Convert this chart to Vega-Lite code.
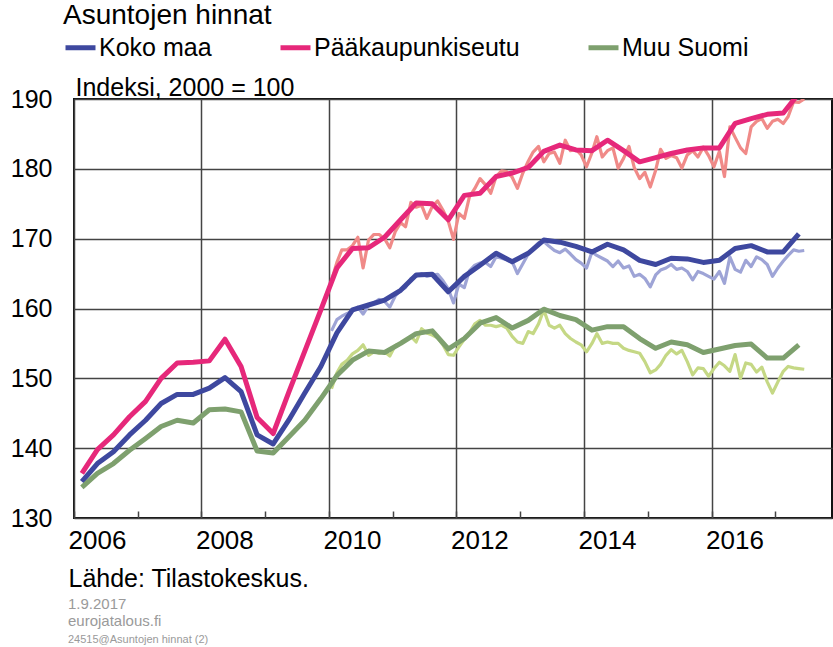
{
  "$schema": "https://vega.github.io/schema/vega-lite/v6.json",
  "width": 758,
  "height": 419,
  "autosize": {"type": "none"},
  "padding": {"left": 74, "top": 99, "right": 1, "bottom": 129},
  "background": "white",
  "config": {
    "font": "Liberation Sans",
    "view": {"stroke": "#111111", "strokeWidth": 2},
    "axis": {"domain": false, "gridColor": "#444444", "gridWidth": 1.5, "labelColor": "#000000", "labelFont": "Liberation Sans", "titleFont": "Liberation Sans"}
  },
  "title": {
    "text": ["1.9.2017", "eurojatalous.fi"],
    "subtitle": "24515@Asuntojen hinnat (2)",
    "orient": "bottom",
    "anchor": "start",
    "frame": "group",
    "fontSize": 15,
    "fontWeight": "normal",
    "color": "#9a9a9a",
    "lineHeight": 17,
    "subtitleFontSize": 11,
    "subtitleColor": "#9a9a9a",
    "subtitlePadding": 5,
    "offset": 6,
    "dx": -6
  },
  "datasets": {
    "q": [
      {"d":"2006-02-15","s":"Koko maa","v":135.2},{"d":"2006-05-15","s":"Koko maa","v":137.8},{"d":"2006-08-15","s":"Koko maa","v":139.5},{"d":"2006-11-15","s":"Koko maa","v":141.9},
      {"d":"2007-02-15","s":"Koko maa","v":144.0},{"d":"2007-05-15","s":"Koko maa","v":146.4},{"d":"2007-08-15","s":"Koko maa","v":147.7},{"d":"2007-11-15","s":"Koko maa","v":147.7},
      {"d":"2008-02-15","s":"Koko maa","v":148.6},{"d":"2008-05-15","s":"Koko maa","v":150.1},{"d":"2008-08-15","s":"Koko maa","v":148.1},{"d":"2008-11-15","s":"Koko maa","v":141.9},
      {"d":"2009-02-15","s":"Koko maa","v":140.6},{"d":"2009-05-15","s":"Koko maa","v":144.0},{"d":"2009-08-15","s":"Koko maa","v":147.9},{"d":"2009-11-15","s":"Koko maa","v":151.7},
      {"d":"2010-02-15","s":"Koko maa","v":156.5},{"d":"2010-05-15","s":"Koko maa","v":159.8},{"d":"2010-08-15","s":"Koko maa","v":160.5},{"d":"2010-11-15","s":"Koko maa","v":161.2},
      {"d":"2011-02-15","s":"Koko maa","v":162.6},{"d":"2011-05-15","s":"Koko maa","v":164.8},{"d":"2011-08-15","s":"Koko maa","v":164.9},{"d":"2011-11-15","s":"Koko maa","v":162.4},
      {"d":"2012-02-15","s":"Koko maa","v":164.6},{"d":"2012-05-15","s":"Koko maa","v":166.2},{"d":"2012-08-15","s":"Koko maa","v":167.9},{"d":"2012-11-15","s":"Koko maa","v":166.7},
      {"d":"2013-02-15","s":"Koko maa","v":167.9},{"d":"2013-05-15","s":"Koko maa","v":169.8},{"d":"2013-08-15","s":"Koko maa","v":169.5},{"d":"2013-11-15","s":"Koko maa","v":168.9},
      {"d":"2014-02-15","s":"Koko maa","v":168.1},{"d":"2014-05-15","s":"Koko maa","v":169.2},{"d":"2014-08-15","s":"Koko maa","v":168.4},{"d":"2014-11-15","s":"Koko maa","v":166.9},
      {"d":"2015-02-15","s":"Koko maa","v":166.3},{"d":"2015-05-15","s":"Koko maa","v":167.2},{"d":"2015-08-15","s":"Koko maa","v":167.1},{"d":"2015-11-15","s":"Koko maa","v":166.6},
      {"d":"2016-02-15","s":"Koko maa","v":166.9},{"d":"2016-05-15","s":"Koko maa","v":168.6},{"d":"2016-08-15","s":"Koko maa","v":169.0},{"d":"2016-11-15","s":"Koko maa","v":168.1},
      {"d":"2017-02-15","s":"Koko maa","v":168.1},{"d":"2017-05-15","s":"Koko maa","v":170.7},

      {"d":"2006-02-15","s":"Pääkaupunkiseutu","v":136.4},{"d":"2006-05-15","s":"Pääkaupunkiseutu","v":139.8},{"d":"2006-08-15","s":"Pääkaupunkiseutu","v":141.9},{"d":"2006-11-15","s":"Pääkaupunkiseutu","v":144.5},
      {"d":"2007-02-15","s":"Pääkaupunkiseutu","v":146.7},{"d":"2007-05-15","s":"Pääkaupunkiseutu","v":150.0},{"d":"2007-08-15","s":"Pääkaupunkiseutu","v":152.2},{"d":"2007-11-15","s":"Pääkaupunkiseutu","v":152.3},
      {"d":"2008-02-15","s":"Pääkaupunkiseutu","v":152.5},{"d":"2008-05-15","s":"Pääkaupunkiseutu","v":155.6},{"d":"2008-08-15","s":"Pääkaupunkiseutu","v":151.7},{"d":"2008-11-15","s":"Pääkaupunkiseutu","v":144.4},
      {"d":"2009-02-15","s":"Pääkaupunkiseutu","v":142.1},{"d":"2009-05-15","s":"Pääkaupunkiseutu","v":148.0},{"d":"2009-08-15","s":"Pääkaupunkiseutu","v":153.9},{"d":"2009-11-15","s":"Pääkaupunkiseutu","v":159.8},
      {"d":"2010-02-15","s":"Pääkaupunkiseutu","v":165.8},{"d":"2010-05-15","s":"Pääkaupunkiseutu","v":168.6},{"d":"2010-08-15","s":"Pääkaupunkiseutu","v":168.7},{"d":"2010-11-15","s":"Pääkaupunkiseutu","v":170.2},
      {"d":"2011-02-15","s":"Pääkaupunkiseutu","v":172.7},{"d":"2011-05-15","s":"Pääkaupunkiseutu","v":175.1},{"d":"2011-08-15","s":"Pääkaupunkiseutu","v":175.0},{"d":"2011-11-15","s":"Pääkaupunkiseutu","v":172.7},
      {"d":"2012-02-15","s":"Pääkaupunkiseutu","v":176.2},{"d":"2012-05-15","s":"Pääkaupunkiseutu","v":176.5},{"d":"2012-08-15","s":"Pääkaupunkiseutu","v":178.9},{"d":"2012-11-15","s":"Pääkaupunkiseutu","v":179.4},
      {"d":"2013-02-15","s":"Pääkaupunkiseutu","v":180.2},{"d":"2013-05-15","s":"Pääkaupunkiseutu","v":182.5},{"d":"2013-08-15","s":"Pääkaupunkiseutu","v":183.4},{"d":"2013-11-15","s":"Pääkaupunkiseutu","v":182.7},
      {"d":"2014-02-15","s":"Pääkaupunkiseutu","v":182.6},{"d":"2014-05-15","s":"Pääkaupunkiseutu","v":184.1},{"d":"2014-08-15","s":"Pääkaupunkiseutu","v":182.6},{"d":"2014-11-15","s":"Pääkaupunkiseutu","v":181.0},
      {"d":"2015-02-15","s":"Pääkaupunkiseutu","v":181.6},{"d":"2015-05-15","s":"Pääkaupunkiseutu","v":182.2},{"d":"2015-08-15","s":"Pääkaupunkiseutu","v":182.7},{"d":"2015-11-15","s":"Pääkaupunkiseutu","v":183.0},
      {"d":"2016-02-15","s":"Pääkaupunkiseutu","v":183.0},{"d":"2016-05-15","s":"Pääkaupunkiseutu","v":186.5},{"d":"2016-08-15","s":"Pääkaupunkiseutu","v":187.2},{"d":"2016-11-15","s":"Pääkaupunkiseutu","v":187.8},
      {"d":"2017-02-15","s":"Pääkaupunkiseutu","v":188.0},{"d":"2017-05-15","s":"Pääkaupunkiseutu","v":190.8},

      {"d":"2006-02-15","s":"Muu Suomi","v":134.4},{"d":"2006-05-15","s":"Muu Suomi","v":136.4},{"d":"2006-08-15","s":"Muu Suomi","v":137.8},{"d":"2006-11-15","s":"Muu Suomi","v":139.7},
      {"d":"2007-02-15","s":"Muu Suomi","v":141.4},{"d":"2007-05-15","s":"Muu Suomi","v":143.1},{"d":"2007-08-15","s":"Muu Suomi","v":144.0},{"d":"2007-11-15","s":"Muu Suomi","v":143.6},
      {"d":"2008-02-15","s":"Muu Suomi","v":145.5},{"d":"2008-05-15","s":"Muu Suomi","v":145.6},{"d":"2008-08-15","s":"Muu Suomi","v":145.2},{"d":"2008-11-15","s":"Muu Suomi","v":139.6},
      {"d":"2009-02-15","s":"Muu Suomi","v":139.3},{"d":"2009-05-15","s":"Muu Suomi","v":141.6},{"d":"2009-08-15","s":"Muu Suomi","v":144.0},{"d":"2009-11-15","s":"Muu Suomi","v":147.1},
      {"d":"2010-02-15","s":"Muu Suomi","v":150.4},{"d":"2010-05-15","s":"Muu Suomi","v":152.6},{"d":"2010-08-15","s":"Muu Suomi","v":153.9},{"d":"2010-11-15","s":"Muu Suomi","v":153.7},
      {"d":"2011-02-15","s":"Muu Suomi","v":155.0},{"d":"2011-05-15","s":"Muu Suomi","v":156.4},{"d":"2011-08-15","s":"Muu Suomi","v":156.8},{"d":"2011-11-15","s":"Muu Suomi","v":154.2},
      {"d":"2012-02-15","s":"Muu Suomi","v":155.7},{"d":"2012-05-15","s":"Muu Suomi","v":157.9},{"d":"2012-08-15","s":"Muu Suomi","v":158.7},{"d":"2012-11-15","s":"Muu Suomi","v":157.2},
      {"d":"2013-02-15","s":"Muu Suomi","v":158.3},{"d":"2013-05-15","s":"Muu Suomi","v":159.9},{"d":"2013-08-15","s":"Muu Suomi","v":159.0},{"d":"2013-11-15","s":"Muu Suomi","v":158.4},
      {"d":"2014-02-15","s":"Muu Suomi","v":156.9},{"d":"2014-05-15","s":"Muu Suomi","v":157.4},{"d":"2014-08-15","s":"Muu Suomi","v":157.4},{"d":"2014-11-15","s":"Muu Suomi","v":155.7},
      {"d":"2015-02-15","s":"Muu Suomi","v":154.3},{"d":"2015-05-15","s":"Muu Suomi","v":155.2},{"d":"2015-08-15","s":"Muu Suomi","v":154.8},{"d":"2015-11-15","s":"Muu Suomi","v":153.7},
      {"d":"2016-02-15","s":"Muu Suomi","v":154.2},{"d":"2016-05-15","s":"Muu Suomi","v":154.7},{"d":"2016-08-15","s":"Muu Suomi","v":154.9},{"d":"2016-11-15","s":"Muu Suomi","v":152.9},
      {"d":"2017-02-15","s":"Muu Suomi","v":152.9},{"d":"2017-05-15","s":"Muu Suomi","v":154.8}
    ],
    "m": [
      {"d":"2010-01-15","s":"Koko maa","v":156.8},{"d":"2010-02-15","s":"Koko maa","v":158.4},{"d":"2010-03-15","s":"Koko maa","v":158.9},{"d":"2010-04-15","s":"Koko maa","v":159.3},{"d":"2010-05-15","s":"Koko maa","v":159.6},{"d":"2010-06-15","s":"Koko maa","v":160.2},{"d":"2010-07-15","s":"Koko maa","v":159.2},{"d":"2010-08-15","s":"Koko maa","v":160.4},{"d":"2010-09-15","s":"Koko maa","v":160.8},{"d":"2010-10-15","s":"Koko maa","v":161.3},{"d":"2010-11-15","s":"Koko maa","v":161.0},{"d":"2010-12-15","s":"Koko maa","v":160.2},
      {"d":"2011-01-15","s":"Koko maa","v":161.8},{"d":"2011-02-15","s":"Koko maa","v":162.6},{"d":"2011-03-15","s":"Koko maa","v":163.0},{"d":"2011-04-15","s":"Koko maa","v":164.3},{"d":"2011-05-15","s":"Koko maa","v":164.6},{"d":"2011-06-15","s":"Koko maa","v":165.0},{"d":"2011-07-15","s":"Koko maa","v":164.6},{"d":"2011-08-15","s":"Koko maa","v":164.8},{"d":"2011-09-15","s":"Koko maa","v":164.9},{"d":"2011-10-15","s":"Koko maa","v":164.0},{"d":"2011-11-15","s":"Koko maa","v":162.8},{"d":"2011-12-15","s":"Koko maa","v":160.8},
      {"d":"2012-01-15","s":"Koko maa","v":163.5},{"d":"2012-02-15","s":"Koko maa","v":163.0},{"d":"2012-03-15","s":"Koko maa","v":165.4},{"d":"2012-04-15","s":"Koko maa","v":166.2},{"d":"2012-05-15","s":"Koko maa","v":166.5},{"d":"2012-06-15","s":"Koko maa","v":166.6},{"d":"2012-07-15","s":"Koko maa","v":166.0},{"d":"2012-08-15","s":"Koko maa","v":167.4},{"d":"2012-09-15","s":"Koko maa","v":167.2},{"d":"2012-10-15","s":"Koko maa","v":167.0},{"d":"2012-11-15","s":"Koko maa","v":166.7},{"d":"2012-12-15","s":"Koko maa","v":165.0},
      {"d":"2013-01-15","s":"Koko maa","v":166.4},{"d":"2013-02-15","s":"Koko maa","v":167.8},{"d":"2013-03-15","s":"Koko maa","v":168.6},{"d":"2013-04-15","s":"Koko maa","v":169.4},{"d":"2013-05-15","s":"Koko maa","v":169.6},{"d":"2013-06-15","s":"Koko maa","v":168.9},{"d":"2013-07-15","s":"Koko maa","v":168.3},{"d":"2013-08-15","s":"Koko maa","v":168.0},{"d":"2013-09-15","s":"Koko maa","v":168.5},{"d":"2013-10-15","s":"Koko maa","v":167.8},{"d":"2013-11-15","s":"Koko maa","v":167.0},{"d":"2013-12-15","s":"Koko maa","v":166.5},
      {"d":"2014-01-15","s":"Koko maa","v":165.8},{"d":"2014-02-15","s":"Koko maa","v":168.1},{"d":"2014-03-15","s":"Koko maa","v":167.6},{"d":"2014-04-15","s":"Koko maa","v":167.2},{"d":"2014-05-15","s":"Koko maa","v":166.8},{"d":"2014-06-15","s":"Koko maa","v":166.0},{"d":"2014-07-15","s":"Koko maa","v":166.8},{"d":"2014-08-15","s":"Koko maa","v":165.8},{"d":"2014-09-15","s":"Koko maa","v":166.1},{"d":"2014-10-15","s":"Koko maa","v":164.6},{"d":"2014-11-15","s":"Koko maa","v":164.9},{"d":"2014-12-15","s":"Koko maa","v":164.3},
      {"d":"2015-01-15","s":"Koko maa","v":163.1},{"d":"2015-02-15","s":"Koko maa","v":164.8},{"d":"2015-03-15","s":"Koko maa","v":165.5},{"d":"2015-04-15","s":"Koko maa","v":165.8},{"d":"2015-05-15","s":"Koko maa","v":166.3},{"d":"2015-06-15","s":"Koko maa","v":165.6},{"d":"2015-07-15","s":"Koko maa","v":165.8},{"d":"2015-08-15","s":"Koko maa","v":165.3},{"d":"2015-09-15","s":"Koko maa","v":164.1},{"d":"2015-10-15","s":"Koko maa","v":165.3},{"d":"2015-11-15","s":"Koko maa","v":165.0},{"d":"2015-12-15","s":"Koko maa","v":164.6},
      {"d":"2016-01-15","s":"Koko maa","v":164.2},{"d":"2016-02-15","s":"Koko maa","v":165.3},{"d":"2016-03-15","s":"Koko maa","v":163.6},{"d":"2016-04-15","s":"Koko maa","v":167.4},{"d":"2016-05-15","s":"Koko maa","v":165.6},{"d":"2016-06-15","s":"Koko maa","v":165.2},{"d":"2016-07-15","s":"Koko maa","v":166.9},{"d":"2016-08-15","s":"Koko maa","v":166.0},{"d":"2016-09-15","s":"Koko maa","v":167.4},{"d":"2016-10-15","s":"Koko maa","v":167.0},{"d":"2016-11-15","s":"Koko maa","v":166.3},{"d":"2016-12-15","s":"Koko maa","v":164.6},
      {"d":"2017-01-15","s":"Koko maa","v":165.8},{"d":"2017-02-15","s":"Koko maa","v":166.8},{"d":"2017-03-15","s":"Koko maa","v":167.6},{"d":"2017-04-15","s":"Koko maa","v":168.4},{"d":"2017-05-15","s":"Koko maa","v":168.2},{"d":"2017-06-15","s":"Koko maa","v":168.3},

      {"d":"2010-01-15","s":"Pääkaupunkiseutu","v":164.0},{"d":"2010-02-15","s":"Pääkaupunkiseutu","v":166.6},{"d":"2010-03-15","s":"Pääkaupunkiseutu","v":168.4},{"d":"2010-04-15","s":"Pääkaupunkiseutu","v":168.4},{"d":"2010-05-15","s":"Pääkaupunkiseutu","v":169.0},{"d":"2010-06-15","s":"Pääkaupunkiseutu","v":170.2},{"d":"2010-07-15","s":"Pääkaupunkiseutu","v":165.8},{"d":"2010-08-15","s":"Pääkaupunkiseutu","v":169.8},{"d":"2010-09-15","s":"Pääkaupunkiseutu","v":170.6},{"d":"2010-10-15","s":"Pääkaupunkiseutu","v":170.6},{"d":"2010-11-15","s":"Pääkaupunkiseutu","v":170.0},{"d":"2010-12-15","s":"Pääkaupunkiseutu","v":168.7},
      {"d":"2011-01-15","s":"Pääkaupunkiseutu","v":171.0},{"d":"2011-02-15","s":"Pääkaupunkiseutu","v":172.3},{"d":"2011-03-15","s":"Pääkaupunkiseutu","v":171.7},{"d":"2011-04-15","s":"Pääkaupunkiseutu","v":175.2},{"d":"2011-05-15","s":"Pääkaupunkiseutu","v":174.5},{"d":"2011-06-15","s":"Pääkaupunkiseutu","v":174.8},{"d":"2011-07-15","s":"Pääkaupunkiseutu","v":172.9},{"d":"2011-08-15","s":"Pääkaupunkiseutu","v":174.6},{"d":"2011-09-15","s":"Pääkaupunkiseutu","v":175.4},{"d":"2011-10-15","s":"Pääkaupunkiseutu","v":174.1},{"d":"2011-11-15","s":"Pääkaupunkiseutu","v":172.5},{"d":"2011-12-15","s":"Pääkaupunkiseutu","v":169.9},
      {"d":"2012-01-15","s":"Pääkaupunkiseutu","v":173.6},{"d":"2012-02-15","s":"Pääkaupunkiseutu","v":172.9},{"d":"2012-03-15","s":"Pääkaupunkiseutu","v":176.0},{"d":"2012-04-15","s":"Pääkaupunkiseutu","v":177.2},{"d":"2012-05-15","s":"Pääkaupunkiseutu","v":178.6},{"d":"2012-06-15","s":"Pääkaupunkiseutu","v":177.7},{"d":"2012-07-15","s":"Pääkaupunkiseutu","v":176.5},{"d":"2012-08-15","s":"Pääkaupunkiseutu","v":178.9},{"d":"2012-09-15","s":"Pääkaupunkiseutu","v":179.7},{"d":"2012-10-15","s":"Pääkaupunkiseutu","v":179.6},{"d":"2012-11-15","s":"Pääkaupunkiseutu","v":178.8},{"d":"2012-12-15","s":"Pääkaupunkiseutu","v":177.2},
      {"d":"2013-01-15","s":"Pääkaupunkiseutu","v":179.4},{"d":"2013-02-15","s":"Pääkaupunkiseutu","v":181.1},{"d":"2013-03-15","s":"Pääkaupunkiseutu","v":182.4},{"d":"2013-04-15","s":"Pääkaupunkiseutu","v":183.2},{"d":"2013-05-15","s":"Pääkaupunkiseutu","v":181.0},{"d":"2013-06-15","s":"Pääkaupunkiseutu","v":182.2},{"d":"2013-07-15","s":"Pääkaupunkiseutu","v":182.4},{"d":"2013-08-15","s":"Pääkaupunkiseutu","v":180.8},{"d":"2013-09-15","s":"Pääkaupunkiseutu","v":184.1},{"d":"2013-10-15","s":"Pääkaupunkiseutu","v":182.6},{"d":"2013-11-15","s":"Pääkaupunkiseutu","v":182.8},{"d":"2013-12-15","s":"Pääkaupunkiseutu","v":182.0},
      {"d":"2014-01-15","s":"Pääkaupunkiseutu","v":180.3},{"d":"2014-02-15","s":"Pääkaupunkiseutu","v":182.3},{"d":"2014-03-15","s":"Pääkaupunkiseutu","v":184.6},{"d":"2014-04-15","s":"Pääkaupunkiseutu","v":181.7},{"d":"2014-05-15","s":"Pääkaupunkiseutu","v":182.6},{"d":"2014-06-15","s":"Pääkaupunkiseutu","v":183.0},{"d":"2014-07-15","s":"Pääkaupunkiseutu","v":180.1},{"d":"2014-08-15","s":"Pääkaupunkiseutu","v":181.5},{"d":"2014-09-15","s":"Pääkaupunkiseutu","v":183.2},{"d":"2014-10-15","s":"Pääkaupunkiseutu","v":180.2},{"d":"2014-11-15","s":"Pääkaupunkiseutu","v":178.6},{"d":"2014-12-15","s":"Pääkaupunkiseutu","v":179.5},
      {"d":"2015-01-15","s":"Pääkaupunkiseutu","v":177.4},{"d":"2015-02-15","s":"Pääkaupunkiseutu","v":179.8},{"d":"2015-03-15","s":"Pääkaupunkiseutu","v":182.8},{"d":"2015-04-15","s":"Pääkaupunkiseutu","v":181.5},{"d":"2015-05-15","s":"Pääkaupunkiseutu","v":181.9},{"d":"2015-06-15","s":"Pääkaupunkiseutu","v":181.6},{"d":"2015-07-15","s":"Pääkaupunkiseutu","v":180.1},{"d":"2015-08-15","s":"Pääkaupunkiseutu","v":182.0},{"d":"2015-09-15","s":"Pääkaupunkiseutu","v":182.6},{"d":"2015-10-15","s":"Pääkaupunkiseutu","v":181.7},{"d":"2015-11-15","s":"Pääkaupunkiseutu","v":183.1},{"d":"2015-12-15","s":"Pääkaupunkiseutu","v":181.9},
      {"d":"2016-01-15","s":"Pääkaupunkiseutu","v":180.3},{"d":"2016-02-15","s":"Pääkaupunkiseutu","v":182.5},{"d":"2016-03-15","s":"Pääkaupunkiseutu","v":178.9},{"d":"2016-04-15","s":"Pääkaupunkiseutu","v":186.0},{"d":"2016-05-15","s":"Pääkaupunkiseutu","v":184.5},{"d":"2016-06-15","s":"Pääkaupunkiseutu","v":183.0},{"d":"2016-07-15","s":"Pääkaupunkiseutu","v":182.2},{"d":"2016-08-15","s":"Pääkaupunkiseutu","v":186.0},{"d":"2016-09-15","s":"Pääkaupunkiseutu","v":186.8},{"d":"2016-10-15","s":"Pääkaupunkiseutu","v":187.2},{"d":"2016-11-15","s":"Pääkaupunkiseutu","v":185.8},{"d":"2016-12-15","s":"Pääkaupunkiseutu","v":186.8},
      {"d":"2017-01-15","s":"Pääkaupunkiseutu","v":187.1},{"d":"2017-02-15","s":"Pääkaupunkiseutu","v":186.5},{"d":"2017-03-15","s":"Pääkaupunkiseutu","v":187.5},{"d":"2017-04-15","s":"Pääkaupunkiseutu","v":189.6},{"d":"2017-05-15","s":"Pääkaupunkiseutu","v":189.5},{"d":"2017-06-15","s":"Pääkaupunkiseutu","v":190.0},

      {"d":"2010-01-15","s":"Muu Suomi","v":148.5},{"d":"2010-02-15","s":"Muu Suomi","v":150.8},{"d":"2010-03-15","s":"Muu Suomi","v":152.0},{"d":"2010-04-15","s":"Muu Suomi","v":152.6},{"d":"2010-05-15","s":"Muu Suomi","v":153.5},{"d":"2010-06-15","s":"Muu Suomi","v":154.0},{"d":"2010-07-15","s":"Muu Suomi","v":154.8},{"d":"2010-08-15","s":"Muu Suomi","v":153.3},{"d":"2010-09-15","s":"Muu Suomi","v":153.8},{"d":"2010-10-15","s":"Muu Suomi","v":153.6},{"d":"2010-11-15","s":"Muu Suomi","v":153.8},{"d":"2010-12-15","s":"Muu Suomi","v":153.2},
      {"d":"2011-01-15","s":"Muu Suomi","v":154.7},{"d":"2011-02-15","s":"Muu Suomi","v":155.0},{"d":"2011-03-15","s":"Muu Suomi","v":155.4},{"d":"2011-04-15","s":"Muu Suomi","v":156.0},{"d":"2011-05-15","s":"Muu Suomi","v":155.2},{"d":"2011-06-15","s":"Muu Suomi","v":157.1},{"d":"2011-07-15","s":"Muu Suomi","v":156.5},{"d":"2011-08-15","s":"Muu Suomi","v":156.2},{"d":"2011-09-15","s":"Muu Suomi","v":155.8},{"d":"2011-10-15","s":"Muu Suomi","v":154.8},{"d":"2011-11-15","s":"Muu Suomi","v":153.4},{"d":"2011-12-15","s":"Muu Suomi","v":153.3},
      {"d":"2012-01-15","s":"Muu Suomi","v":154.5},{"d":"2012-02-15","s":"Muu Suomi","v":155.6},{"d":"2012-03-15","s":"Muu Suomi","v":156.5},{"d":"2012-04-15","s":"Muu Suomi","v":157.8},{"d":"2012-05-15","s":"Muu Suomi","v":158.3},{"d":"2012-06-15","s":"Muu Suomi","v":157.6},{"d":"2012-07-15","s":"Muu Suomi","v":157.6},{"d":"2012-08-15","s":"Muu Suomi","v":157.4},{"d":"2012-09-15","s":"Muu Suomi","v":157.6},{"d":"2012-10-15","s":"Muu Suomi","v":157.2},{"d":"2012-11-15","s":"Muu Suomi","v":156.0},{"d":"2012-12-15","s":"Muu Suomi","v":155.2},
      {"d":"2013-01-15","s":"Muu Suomi","v":155.0},{"d":"2013-02-15","s":"Muu Suomi","v":156.7},{"d":"2013-03-15","s":"Muu Suomi","v":156.4},{"d":"2013-04-15","s":"Muu Suomi","v":157.8},{"d":"2013-05-15","s":"Muu Suomi","v":159.8},{"d":"2013-06-15","s":"Muu Suomi","v":157.6},{"d":"2013-07-15","s":"Muu Suomi","v":157.2},{"d":"2013-08-15","s":"Muu Suomi","v":157.6},{"d":"2013-09-15","s":"Muu Suomi","v":156.4},{"d":"2013-10-15","s":"Muu Suomi","v":155.7},{"d":"2013-11-15","s":"Muu Suomi","v":155.2},{"d":"2013-12-15","s":"Muu Suomi","v":154.8},
      {"d":"2014-01-15","s":"Muu Suomi","v":153.8},{"d":"2014-02-15","s":"Muu Suomi","v":155.0},{"d":"2014-03-15","s":"Muu Suomi","v":156.4},{"d":"2014-04-15","s":"Muu Suomi","v":155.0},{"d":"2014-05-15","s":"Muu Suomi","v":155.2},{"d":"2014-06-15","s":"Muu Suomi","v":155.0},{"d":"2014-07-15","s":"Muu Suomi","v":155.0},{"d":"2014-08-15","s":"Muu Suomi","v":154.3},{"d":"2014-09-15","s":"Muu Suomi","v":154.0},{"d":"2014-10-15","s":"Muu Suomi","v":153.8},{"d":"2014-11-15","s":"Muu Suomi","v":153.6},{"d":"2014-12-15","s":"Muu Suomi","v":152.4},
      {"d":"2015-01-15","s":"Muu Suomi","v":150.8},{"d":"2015-02-15","s":"Muu Suomi","v":151.2},{"d":"2015-03-15","s":"Muu Suomi","v":152.0},{"d":"2015-04-15","s":"Muu Suomi","v":153.3},{"d":"2015-05-15","s":"Muu Suomi","v":154.1},{"d":"2015-06-15","s":"Muu Suomi","v":153.5},{"d":"2015-07-15","s":"Muu Suomi","v":154.0},{"d":"2015-08-15","s":"Muu Suomi","v":152.4},{"d":"2015-09-15","s":"Muu Suomi","v":150.5},{"d":"2015-10-15","s":"Muu Suomi","v":151.5},{"d":"2015-11-15","s":"Muu Suomi","v":151.4},{"d":"2015-12-15","s":"Muu Suomi","v":150.3},
      {"d":"2016-01-15","s":"Muu Suomi","v":151.4},{"d":"2016-02-15","s":"Muu Suomi","v":152.3},{"d":"2016-03-15","s":"Muu Suomi","v":151.8},{"d":"2016-04-15","s":"Muu Suomi","v":151.0},{"d":"2016-05-15","s":"Muu Suomi","v":153.4},{"d":"2016-06-15","s":"Muu Suomi","v":150.0},{"d":"2016-07-15","s":"Muu Suomi","v":152.2},{"d":"2016-08-15","s":"Muu Suomi","v":152.0},{"d":"2016-09-15","s":"Muu Suomi","v":150.9},{"d":"2016-10-15","s":"Muu Suomi","v":151.6},{"d":"2016-11-15","s":"Muu Suomi","v":149.5},{"d":"2016-12-15","s":"Muu Suomi","v":147.9},
      {"d":"2017-01-15","s":"Muu Suomi","v":149.5},{"d":"2017-02-15","s":"Muu Suomi","v":151.0},{"d":"2017-03-15","s":"Muu Suomi","v":151.7},{"d":"2017-04-15","s":"Muu Suomi","v":151.5},{"d":"2017-05-15","s":"Muu Suomi","v":151.4},{"d":"2017-06-15","s":"Muu Suomi","v":151.3}
    ]
  },
  "encoding": {
    "x": {
      "field": "d",
      "type": "temporal",
      "title": "Lähde: Tilastokeskus.",
      "scale": {"type": "utc", "domain": [{"year": 2006, "month": 1, "date": 1, "utc": true}, {"year": 2017, "month": 11, "date": 21, "utc": true}]},
      "axis": {
        "values": [
          {"year": 2006, "utc": true}, {"year": 2007, "utc": true}, {"year": 2008, "utc": true}, {"year": 2009, "utc": true},
          {"year": 2010, "utc": true}, {"year": 2011, "utc": true}, {"year": 2012, "utc": true}, {"year": 2013, "utc": true},
          {"year": 2014, "utc": true}, {"year": 2015, "utc": true}, {"year": 2016, "utc": true}, {"year": 2017, "utc": true}
        ],
        "format": "%Y",
        "labelExpr": "utcyear(datum.value) % 2 == 0 ? datum.label : ''",
        "labelFontSize": 26,
        "labelAlign": "left",
        "labelOffset": -6,
        "labelPadding": 16,
        "labelFlush": false,
        "labelOverlap": false,
        "grid": true,
        "gridOpacity": {"condition": {"test": "utcyear(datum.value) % 2 == 0", "value": 1}, "value": 0},
        "ticks": true,
        "tickSize": -7,
        "tickColor": "#444444",
        "tickWidth": 1.5,
        "titleFontSize": 25,
        "titleFontWeight": "normal",
        "titleColor": "#000000",
        "titleAlign": "left",
        "titleAnchor": "start",
        "titleBaseline": "alphabetic",
        "titleX": -6,
        "titleY": 68
      }
    },
    "y": {
      "field": "v",
      "type": "quantitative",
      "title": "Indeksi, 2000 = 100",
      "scale": {"domain": [130, 190], "nice": false, "zero": false},
      "axis": {
        "values": [130, 140, 150, 160, 170, 180, 190],
        "labelFontSize": 25,
        "labelPadding": 22,
        "ticks": false,
        "grid": true,
        "labelFlush": false,
        "titleAngle": 0,
        "titleAlign": "left",
        "titleBaseline": "alphabetic",
        "titleX": 1,
        "titleY": -4,
        "titleFontSize": 25,
        "titleFontWeight": "normal",
        "titleColor": "#000000",
        "titleLimit": 0
      }
    }
  },
  "layer": [
    {
      "data": {"name": "m"},
      "mark": {"type": "line", "strokeWidth": 3.2, "clip": true, "strokeJoin": "round"},
      "encoding": {
        "color": {
          "field": "s",
          "type": "nominal",
          "scale": {"domain": ["Koko maa", "Pääkaupunkiseutu", "Muu Suomi"], "range": ["#9ea4d6", "#f08a88", "#c5d885"]},
          "legend": null
        }
      }
    },
    {
      "data": {"name": "q"},
      "mark": {"type": "line", "strokeWidth": 5, "clip": true, "strokeJoin": "round"},
      "encoding": {
        "color": {
          "field": "s",
          "type": "nominal",
          "scale": {"domain": ["Koko maa", "Pääkaupunkiseutu", "Muu Suomi"], "range": ["#3e489f", "#e6287a", "#7ea06e"]},
          "legend": {
            "title": "Asuntojen hinnat",
            "orient": "none",
            "legendX": -11,
            "legendY": -97,
            "direction": "horizontal",
            "titleOrient": "top",
            "titleAnchor": "start",
            "titleFontSize": 28,
            "titleFontWeight": "normal",
            "titleColor": "#000000",
            "titlePadding": 0,
            "titleLimit": 0,
            "labelLimit": 0,
            "labelFontSize": 25,
            "labelColor": "#000000",
            "symbolType": "stroke",
            "symbolStrokeWidth": 5,
            "symbolSize": 900,
            "labelOffset": 1,
            "columnPadding": 58,
            "padding": 0
          }
        }
      }
    }
  ],
  "resolve": {"scale": {"color": "independent"}}
}
